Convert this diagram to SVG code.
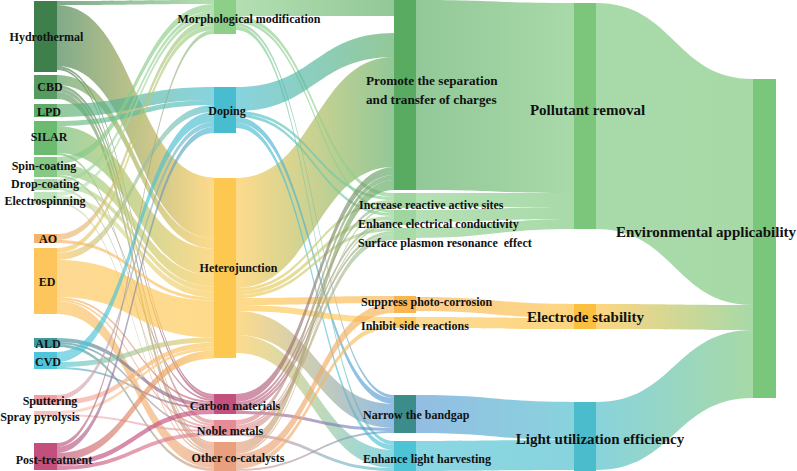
<svg xmlns="http://www.w3.org/2000/svg" width="797" height="471" viewBox="0 0 797 471">
<style>
.l{fill-opacity:0.66;stroke:none}
.t{font-family:"Liberation Serif","Times New Roman",serif;font-weight:bold;fill:#111;font-size:12px}
.m{text-anchor:middle}
.b{font-size:15px}
.p{font-size:13.2px}
</style>
<defs>
<linearGradient id="hymo"><stop stop-color="#3f7f4c"/><stop offset="1" stop-color="#8ccf89"/></linearGradient>
<linearGradient id="hyhe"><stop stop-color="#3f7f4c"/><stop offset="1" stop-color="#fdc84f"/></linearGradient>
<linearGradient id="hyca"><stop stop-color="#3f7f4c"/><stop offset="1" stop-color="#c3517f"/></linearGradient>
<linearGradient id="hyot"><stop stop-color="#3f7f4c"/><stop offset="1" stop-color="#e8a07e"/></linearGradient>
<linearGradient id="cbhe"><stop stop-color="#569c5f"/><stop offset="1" stop-color="#fdc84f"/></linearGradient>
<linearGradient id="cbca"><stop stop-color="#569c5f"/><stop offset="1" stop-color="#c3517f"/></linearGradient>
<linearGradient id="cbno"><stop stop-color="#569c5f"/><stop offset="1" stop-color="#e78c96"/></linearGradient>
<linearGradient id="cbot"><stop stop-color="#569c5f"/><stop offset="1" stop-color="#e8a07e"/></linearGradient>
<linearGradient id="lpdo"><stop stop-color="#5fac69"/><stop offset="1" stop-color="#49bdd0"/></linearGradient>
<linearGradient id="sido"><stop stop-color="#6bbb70"/><stop offset="1" stop-color="#49bdd0"/></linearGradient>
<linearGradient id="sihe"><stop stop-color="#6bbb70"/><stop offset="1" stop-color="#fdc84f"/></linearGradient>
<linearGradient id="siot"><stop stop-color="#6bbb70"/><stop offset="1" stop-color="#e8a07e"/></linearGradient>
<linearGradient id="spmo"><stop stop-color="#86c985"/><stop offset="1" stop-color="#8ccf89"/></linearGradient>
<linearGradient id="sphe"><stop stop-color="#86c985"/><stop offset="1" stop-color="#fdc84f"/></linearGradient>
<linearGradient id="spca"><stop stop-color="#86c985"/><stop offset="1" stop-color="#c3517f"/></linearGradient>
<linearGradient id="drmo"><stop stop-color="#a3d7a1"/><stop offset="1" stop-color="#8ccf89"/></linearGradient>
<linearGradient id="drhe"><stop stop-color="#a3d7a1"/><stop offset="1" stop-color="#fdc84f"/></linearGradient>
<linearGradient id="drno"><stop stop-color="#a3d7a1"/><stop offset="1" stop-color="#e78c96"/></linearGradient>
<linearGradient id="elmo"><stop stop-color="#bfe3bd"/><stop offset="1" stop-color="#8ccf89"/></linearGradient>
<linearGradient id="elhe"><stop stop-color="#bfe3bd"/><stop offset="1" stop-color="#fdc84f"/></linearGradient>
<linearGradient id="elot"><stop stop-color="#bfe3bd"/><stop offset="1" stop-color="#e8a07e"/></linearGradient>
<linearGradient id="aomo"><stop stop-color="#f6b26b"/><stop offset="1" stop-color="#8ccf89"/></linearGradient>
<linearGradient id="aohe"><stop stop-color="#f6b26b"/><stop offset="1" stop-color="#fdc84f"/></linearGradient>
<linearGradient id="edmo"><stop stop-color="#fdc55b"/><stop offset="1" stop-color="#8ccf89"/></linearGradient>
<linearGradient id="eddo"><stop stop-color="#fdc55b"/><stop offset="1" stop-color="#49bdd0"/></linearGradient>
<linearGradient id="edhe"><stop stop-color="#fdc55b"/><stop offset="1" stop-color="#fdc84f"/></linearGradient>
<linearGradient id="edca"><stop stop-color="#fdc55b"/><stop offset="1" stop-color="#c3517f"/></linearGradient>
<linearGradient id="edno"><stop stop-color="#fdc55b"/><stop offset="1" stop-color="#e78c96"/></linearGradient>
<linearGradient id="edot"><stop stop-color="#fdc55b"/><stop offset="1" stop-color="#e8a07e"/></linearGradient>
<linearGradient id="alca"><stop stop-color="#3d9aa0"/><stop offset="1" stop-color="#c3517f"/></linearGradient>
<linearGradient id="alno"><stop stop-color="#3d9aa0"/><stop offset="1" stop-color="#e78c96"/></linearGradient>
<linearGradient id="alot"><stop stop-color="#3d9aa0"/><stop offset="1" stop-color="#e8a07e"/></linearGradient>
<linearGradient id="cvdo"><stop stop-color="#4ec5d9"/><stop offset="1" stop-color="#49bdd0"/></linearGradient>
<linearGradient id="cvhe"><stop stop-color="#4ec5d9"/><stop offset="1" stop-color="#fdc84f"/></linearGradient>
<linearGradient id="cvca"><stop stop-color="#4ec5d9"/><stop offset="1" stop-color="#c3517f"/></linearGradient>
<linearGradient id="sudo"><stop stop-color="#f09fa5"/><stop offset="1" stop-color="#49bdd0"/></linearGradient>
<linearGradient id="suhe"><stop stop-color="#f09fa5"/><stop offset="1" stop-color="#fdc84f"/></linearGradient>
<linearGradient id="srhe"><stop stop-color="#f6c0c0"/><stop offset="1" stop-color="#fdc84f"/></linearGradient>
<linearGradient id="srno"><stop stop-color="#f6c0c0"/><stop offset="1" stop-color="#e78c96"/></linearGradient>
<linearGradient id="pomo"><stop stop-color="#c24f7c"/><stop offset="1" stop-color="#8ccf89"/></linearGradient>
<linearGradient id="podo"><stop stop-color="#c24f7c"/><stop offset="1" stop-color="#49bdd0"/></linearGradient>
<linearGradient id="pohe"><stop stop-color="#c24f7c"/><stop offset="1" stop-color="#fdc84f"/></linearGradient>
<linearGradient id="poca"><stop stop-color="#c24f7c"/><stop offset="1" stop-color="#c3517f"/></linearGradient>
<linearGradient id="pono"><stop stop-color="#c24f7c"/><stop offset="1" stop-color="#e78c96"/></linearGradient>
<linearGradient id="mopr"><stop stop-color="#8ccf89"/><stop offset="1" stop-color="#5aab62"/></linearGradient>
<linearGradient id="moin"><stop stop-color="#8ccf89"/><stop offset="1" stop-color="#8fd08f"/></linearGradient>
<linearGradient id="mona"><stop stop-color="#8ccf89"/><stop offset="1" stop-color="#5b9bd5"/></linearGradient>
<linearGradient id="moen"><stop stop-color="#8ccf89"/><stop offset="1" stop-color="#4dc3d6"/></linearGradient>
<linearGradient id="dopr"><stop stop-color="#49bdd0"/><stop offset="1" stop-color="#5aab62"/></linearGradient>
<linearGradient id="doin"><stop stop-color="#49bdd0"/><stop offset="1" stop-color="#8fd08f"/></linearGradient>
<linearGradient id="dona"><stop stop-color="#49bdd0"/><stop offset="1" stop-color="#5b9bd5"/></linearGradient>
<linearGradient id="doen"><stop stop-color="#49bdd0"/><stop offset="1" stop-color="#4dc3d6"/></linearGradient>
<linearGradient id="hepr"><stop stop-color="#fdc84f"/><stop offset="1" stop-color="#5aab62"/></linearGradient>
<linearGradient id="hein"><stop stop-color="#fdc84f"/><stop offset="1" stop-color="#8fd08f"/></linearGradient>
<linearGradient id="hesu"><stop stop-color="#fdc84f"/><stop offset="1" stop-color="#f9b553"/></linearGradient>
<linearGradient id="heih"><stop stop-color="#fdc84f"/><stop offset="1" stop-color="#fdc858"/></linearGradient>
<linearGradient id="hena"><stop stop-color="#fdc84f"/><stop offset="1" stop-color="#5b9bd5"/></linearGradient>
<linearGradient id="heen"><stop stop-color="#fdc84f"/><stop offset="1" stop-color="#4dc3d6"/></linearGradient>
<linearGradient id="capr"><stop stop-color="#c3517f"/><stop offset="1" stop-color="#5aab62"/></linearGradient>
<linearGradient id="cain"><stop stop-color="#c3517f"/><stop offset="1" stop-color="#8fd08f"/></linearGradient>
<linearGradient id="cana"><stop stop-color="#c3517f"/><stop offset="1" stop-color="#5b9bd5"/></linearGradient>
<linearGradient id="nopr"><stop stop-color="#e78c96"/><stop offset="1" stop-color="#5aab62"/></linearGradient>
<linearGradient id="noin"><stop stop-color="#e78c96"/><stop offset="1" stop-color="#8fd08f"/></linearGradient>
<linearGradient id="noen"><stop stop-color="#e78c96"/><stop offset="1" stop-color="#4dc3d6"/></linearGradient>
<linearGradient id="otpr"><stop stop-color="#e8a07e"/><stop offset="1" stop-color="#5aab62"/></linearGradient>
<linearGradient id="otin"><stop stop-color="#e8a07e"/><stop offset="1" stop-color="#8fd08f"/></linearGradient>
<linearGradient id="otsu"><stop stop-color="#e8a07e"/><stop offset="1" stop-color="#f9b553"/></linearGradient>
<linearGradient id="otih"><stop stop-color="#e8a07e"/><stop offset="1" stop-color="#fdc858"/></linearGradient>
<linearGradient id="otna"><stop stop-color="#e8a07e"/><stop offset="1" stop-color="#5b9bd5"/></linearGradient>
<linearGradient id="prpl"><stop stop-color="#5aab62"/><stop offset="1" stop-color="#7cc67c"/></linearGradient>
<linearGradient id="inpl"><stop stop-color="#8fd08f"/><stop offset="1" stop-color="#7cc67c"/></linearGradient>
<linearGradient id="suel"><stop stop-color="#f9b553"/><stop offset="1" stop-color="#fcc040"/></linearGradient>
<linearGradient id="ihel"><stop stop-color="#fdc858"/><stop offset="1" stop-color="#fcc040"/></linearGradient>
<linearGradient id="nali"><stop stop-color="#5b9bd5"/><stop offset="1" stop-color="#4bbccb"/></linearGradient>
<linearGradient id="enli"><stop stop-color="#4dc3d6"/><stop offset="1" stop-color="#4bbccb"/></linearGradient>
<linearGradient id="plen"><stop stop-color="#7cc67c"/><stop offset="1" stop-color="#7ac67a"/></linearGradient>
<linearGradient id="elen"><stop stop-color="#fcc040"/><stop offset="1" stop-color="#7ac67a"/></linearGradient>
<linearGradient id="lien"><stop stop-color="#4bbccb"/><stop offset="1" stop-color="#7ac67a"/></linearGradient>
</defs>
<g id="links">
<path class="l" fill="url(#hyhe)" d="M57 5C135.5 5 135.5 177.5 214 177.5V238.5C135.5 238.5 135.5 66 57 66Z"/>
<path class="l" fill="url(#hymo)" d="M57 1C135.5 1 135.5 0 214 0V4C135.5 4 135.5 5 57 5Z"/>
<path class="l" fill="url(#hyca)" d="M57 66C135.5 66 135.5 394 214 394V396C135.5 396 135.5 68 57 68Z"/>
<path class="l" fill="url(#hyot)" d="M57 68C135.5 68 135.5 442 214 442V444C135.5 444 135.5 70 57 70Z"/>
<path class="l" fill="url(#cbhe)" d="M57 75C135.5 75 135.5 238.5 214 238.5V248.5C135.5 248.5 135.5 85 57 85Z"/>
<path class="l" fill="url(#cbca)" d="M57 85C135.5 85 135.5 396 214 396V399C135.5 399 135.5 88 57 88Z"/>
<path class="l" fill="url(#cbno)" d="M57 88C135.5 88 135.5 420 214 420V424C135.5 424 135.5 92 57 92Z"/>
<path class="l" fill="url(#cbot)" d="M57 92C135.5 92 135.5 444 214 444V451C135.5 451 135.5 99 57 99Z"/>
<path class="l" fill="url(#lpdo)" d="M57 104C135.5 104 135.5 87 214 87V100C135.5 100 135.5 117 57 117Z"/>
<path class="l" fill="url(#sido)" d="M57 121C135.5 121 135.5 100 214 100V105C135.5 105 135.5 126 57 126Z"/>
<path class="l" fill="url(#sihe)" d="M57 126C135.5 126 135.5 248.5 214 248.5V275.5C135.5 275.5 135.5 153 57 153Z"/>
<path class="l" fill="url(#siot)" d="M57 153C135.5 153 135.5 451 214 451V453C135.5 453 135.5 155 57 155Z"/>
<path class="l" fill="url(#spmo)" d="M57 157C135.5 157 135.5 4 214 4V11C135.5 11 135.5 164 57 164Z"/>
<path class="l" fill="url(#sphe)" d="M57 164C135.5 164 135.5 275.5 214 275.5V286.5C135.5 286.5 135.5 175 57 175Z"/>
<path class="l" fill="url(#spca)" d="M57 175C135.5 175 135.5 399 214 399V401C135.5 401 135.5 177 57 177Z"/>
<path class="l" fill="url(#drmo)" d="M57 179C135.5 179 135.5 11 214 11V15C135.5 15 135.5 183 57 183Z"/>
<path class="l" fill="url(#drhe)" d="M57 183C135.5 183 135.5 286.5 214 286.5V291.5C135.5 291.5 135.5 188 57 188Z"/>
<path class="l" fill="url(#drno)" d="M57 188C135.5 188 135.5 424 214 424V426C135.5 426 135.5 190 57 190Z"/>
<path class="l" fill="url(#elmo)" d="M57 192C135.5 192 135.5 15 214 15V19C135.5 19 135.5 196 57 196Z"/>
<path class="l" fill="url(#elhe)" d="M57 196C135.5 196 135.5 291.5 214 291.5V297.5C135.5 297.5 135.5 202 57 202Z"/>
<path class="l" fill="url(#elot)" d="M57 202C135.5 202 135.5 453 214 453V455C135.5 455 135.5 204 57 204Z"/>
<path class="l" fill="url(#aomo)" d="M57 234C135.5 234 135.5 19 214 19V25C135.5 25 135.5 240 57 240Z"/>
<path class="l" fill="url(#aohe)" d="M57 240C135.5 240 135.5 297.5 214 297.5V300.5C135.5 300.5 135.5 243 57 243Z"/>
<path class="l" fill="url(#edmo)" d="M57 248C135.5 248 135.5 25 214 25V30C135.5 30 135.5 253 57 253Z"/>
<path class="l" fill="url(#eddo)" d="M57 253C135.5 253 135.5 105 214 105V112C135.5 112 135.5 260 57 260Z"/>
<path class="l" fill="url(#edhe)" d="M57 260C135.5 260 135.5 300.5 214 300.5V337.5C135.5 337.5 135.5 297 57 297Z"/>
<path class="l" fill="url(#edca)" d="M57 297C135.5 297 135.5 401 214 401V403C135.5 403 135.5 299 57 299Z"/>
<path class="l" fill="url(#edno)" d="M57 299C135.5 299 135.5 426 214 426V428C135.5 428 135.5 301 57 301Z"/>
<path class="l" fill="url(#edot)" d="M57 301C135.5 301 135.5 455 214 455V468C135.5 468 135.5 314 57 314Z"/>
<path class="l" fill="url(#alca)" d="M57 338C135.5 338 135.5 403 214 403V407C135.5 407 135.5 342 57 342Z"/>
<path class="l" fill="url(#alno)" d="M57 342C135.5 342 135.5 428 214 428V430C135.5 430 135.5 344 57 344Z"/>
<path class="l" fill="url(#alot)" d="M57 344C135.5 344 135.5 468 214 468V471C135.5 471 135.5 347 57 347Z"/>
<path class="l" fill="url(#cvdo)" d="M57 352C135.5 352 135.5 112 214 112V122C135.5 122 135.5 362 57 362Z"/>
<path class="l" fill="url(#cvhe)" d="M57 362C135.5 362 135.5 337.5 214 337.5V342.5C135.5 342.5 135.5 367 57 367Z"/>
<path class="l" fill="url(#cvca)" d="M57 367C135.5 367 135.5 407 214 407V409C135.5 409 135.5 369 57 369Z"/>
<path class="l" fill="url(#sudo)" d="M57 395C135.5 395 135.5 122 214 122V127C135.5 127 135.5 400 57 400Z"/>
<path class="l" fill="url(#suhe)" d="M57 400C135.5 400 135.5 342.5 214 342.5V347.5C135.5 347.5 135.5 405 57 405Z"/>
<path class="l" fill="url(#srhe)" d="M57 411C135.5 411 135.5 347.5 214 347.5V350.5C135.5 350.5 135.5 414 57 414Z"/>
<path class="l" fill="url(#srno)" d="M57 414C135.5 414 135.5 430 214 430V432C135.5 432 135.5 416 57 416Z"/>
<path class="l" fill="url(#pomo)" d="M57 443C135.5 443 135.5 30 214 30V34C135.5 34 135.5 447 57 447Z"/>
<path class="l" fill="url(#podo)" d="M57 447C135.5 447 135.5 127 214 127V133C135.5 133 135.5 453 57 453Z"/>
<path class="l" fill="url(#pohe)" d="M57 453C135.5 453 135.5 350.5 214 350.5V358.5C135.5 358.5 135.5 461 57 461Z"/>
<path class="l" fill="url(#poca)" d="M57 461C135.5 461 135.5 409 214 409V414C135.5 414 135.5 466 57 466Z"/>
<path class="l" fill="url(#pono)" d="M57 466C135.5 466 135.5 432 214 432V436C135.5 436 135.5 470 57 470Z"/>

<path class="l" fill="url(#hepr)" d="M236 178C315 178 315 57 394 57V167C315 167 315 288 236 288Z"/>
<path class="l" fill="url(#mopr)" d="M236 0C315 0 315 0 394 0V16C315 16 315 16 236 16Z"/>
<path class="l" fill="url(#moin)" d="M236 16C315 16 315 193 394 193V197C315 197 315 20 236 20Z"/>
<path class="l" fill="url(#moin)" d="M236 20C315 20 315 210 394 210V213C315 213 315 23 236 23Z"/>
<path class="l" fill="url(#mona)" d="M236 23C315 23 315 395 394 395V398C315 398 315 26 236 26Z"/>
<path class="l" fill="url(#moen)" d="M236 26C315 26 315 441 394 441V445C315 445 315 30 236 30Z"/>
<path class="l" fill="url(#dopr)" d="M236 87C315 87 315 33 394 33V57C315 57 315 111 236 111Z"/>
<path class="l" fill="url(#doin)" d="M236 111C315 111 315 197 394 197V200C315 200 315 114 236 114Z"/>
<path class="l" fill="url(#doin)" d="M236 114C315 114 315 213 394 213V216C315 216 315 117 236 117Z"/>
<path class="l" fill="url(#dona)" d="M236 117C315 117 315 398 394 398V404C315 404 315 123 236 123Z"/>
<path class="l" fill="url(#doen)" d="M236 123C315 123 315 445 394 445V450C315 450 315 128 236 128Z"/>
<path class="l" fill="url(#hein)" d="M236 288C315 288 315 200 394 200V203C315 203 315 291 236 291Z"/>
<path class="l" fill="url(#hein)" d="M236 291C315 291 315 216 394 216V220C315 220 315 295 236 295Z"/>
<path class="l" fill="url(#hein)" d="M236 295C315 295 315 228 394 228V231C315 231 315 298 236 298Z"/>
<path class="l" fill="url(#hesu)" d="M236 298C315 298 315 296 394 296V303C315 303 315 305 236 305Z"/>
<path class="l" fill="url(#heih)" d="M236 305C315 305 315 317 394 317V323C315 323 315 311 236 311Z"/>
<path class="l" fill="url(#hena)" d="M236 311C315 311 315 404 394 404V428C315 428 315 335 236 335Z"/>
<path class="l" fill="url(#heen)" d="M236 335C315 335 315 450 394 450V468C315 468 315 353 236 353Z"/>
<path class="l" fill="url(#capr)" d="M236 394C315 394 315 167 394 167V175C315 175 315 402 236 402Z"/>
<path class="l" fill="url(#cain)" d="M236 402C315 402 315 203 394 203V206C315 206 315 405 236 405Z"/>
<path class="l" fill="url(#cain)" d="M236 405C315 405 315 220 394 220V223C315 223 315 408 236 408Z"/>
<path class="l" fill="url(#cain)" d="M236 408C315 408 315 231 394 231V234C315 234 315 411 236 411Z"/>
<path class="l" fill="url(#cana)" d="M236 411C315 411 315 428 394 428V431C315 431 315 414 236 414Z"/>
<path class="l" fill="url(#nopr)" d="M236 420C315 420 315 175 394 175V180C315 180 315 425 236 425Z"/>
<path class="l" fill="url(#noin)" d="M236 425C315 425 315 223 394 223V225C315 225 315 427 236 427Z"/>
<path class="l" fill="url(#noin)" d="M236 427C315 427 315 234 394 234V240C315 240 315 433 236 433Z"/>
<path class="l" fill="url(#noen)" d="M236 433C315 433 315 468 394 468V471C315 471 315 436 236 436Z"/>
<path class="l" fill="url(#otpr)" d="M236 442C315 442 315 180 394 180V190C315 190 315 452 236 452Z"/>
<path class="l" fill="url(#otin)" d="M236 452C315 452 315 206 394 206V208C315 208 315 454 236 454Z"/>
<path class="l" fill="url(#otsu)" d="M236 454C315 454 315 303 394 303V313C315 313 315 464 236 464Z"/>
<path class="l" fill="url(#otih)" d="M236 464C315 464 315 323 394 323V328C315 328 315 469 236 469Z"/>
<path class="l" fill="url(#otna)" d="M236 469C315 469 315 431 394 431V433C315 433 315 471 236 471Z"/>

<path class="l" fill="url(#prpl)" d="M416 0C495 0 495 3 574 3V193C495 193 495 190 416 190Z"/>
<path class="l" fill="url(#inpl)" d="M416 193C495 193 495 193 574 193V207C495 207 495 207 416 207Z"/>
<path class="l" fill="url(#inpl)" d="M416 210C495 210 495 207 574 207V219C495 219 495 222 416 222Z"/>
<path class="l" fill="url(#inpl)" d="M416 228C495 228 495 219 574 219V229C495 229 495 238 416 238Z"/>
<path class="l" fill="url(#suel)" d="M416 297C495 297 495 304 574 304V318C495 318 495 311 416 311Z"/>
<path class="l" fill="url(#ihel)" d="M416 317C495 317 495 318 574 318V329C495 329 495 328 416 328Z"/>
<path class="l" fill="url(#nali)" d="M416 395C495 395 495 402 574 402V440C495 440 495 433 416 433Z"/>
<path class="l" fill="url(#enli)" d="M416 441C495 441 495 440 574 440V470C495 470 495 471 416 471Z"/>

<path class="l" fill="url(#plen)" d="M596 3C674.5 3 674.5 79 753 79V305C674.5 305 674.5 229 596 229Z"/>
<path class="l" fill="url(#elen)" d="M596 304C674.5 304 674.5 305 753 305V330C674.5 330 674.5 329 596 329Z"/>
<path class="l" fill="url(#lien)" d="M596 402C674.5 402 674.5 330 753 330V398C674.5 398 674.5 470 596 470Z"/>
</g>

<g id="n-hydrothermal"><rect x="34" y="1" width="23" height="71" fill="#3f7f4c"/><text class="t m" x="46.5" y="41">Hydrothermal</text></g>
<g id="n-cbd"><rect x="34" y="75" width="23" height="24" fill="#569c5f"/><text class="t m" x="50" y="91">CBD</text></g>
<g id="n-lpd"><rect x="34" y="104" width="23" height="13" fill="#5fac69"/><text class="t m" x="49" y="116">LPD</text></g>
<g id="n-silar"><rect x="34" y="121" width="23" height="34" fill="#6bbb70"/><text class="t m" x="49" y="141">SILAR</text></g>
<g id="n-spin"><rect x="34" y="157" width="23" height="20" fill="#86c985"/><text class="t m" x="44" y="170">Spin-coating</text></g>
<g id="n-drop"><rect x="34" y="179" width="23" height="11" fill="#a3d7a1"/><text class="t m" x="45" y="188">Drop-coating</text></g>
<g id="n-electro"><rect x="34" y="192" width="23" height="12" fill="#bfe3bd"/><text class="t m" x="45" y="205">Electrospinning</text></g>
<g id="n-ao"><rect x="34" y="234" width="23" height="9" fill="#f6b26b"/><text class="t m" x="48" y="243">AO</text></g>
<g id="n-ed"><rect x="34" y="248" width="23" height="66" fill="#fdc55b"/><text class="t m" x="47" y="286">ED</text></g>
<g id="n-ald"><rect x="34" y="338" width="23" height="9" fill="#3d9aa0"/><text class="t m" x="48" y="348">ALD</text></g>
<g id="n-cvd"><rect x="34" y="352" width="23" height="17" fill="#4ec5d9"/><text class="t m" x="48" y="366">CVD</text></g>
<g id="n-sputtering"><rect x="34" y="395" width="23" height="10" fill="#f09fa5"/><text class="t m" x="50" y="405">Sputtering</text></g>
<g id="n-spray"><rect x="34" y="411" width="23" height="5" fill="#f6c0c0"/><text class="t m" x="40" y="421">Spray pyrolysis</text></g>
<g id="n-post"><rect x="34" y="443" width="23" height="27" fill="#c24f7c"/><text class="t m" x="54" y="464">Post-treatment</text></g>

<g id="n-morph"><rect x="214" y="0" width="22" height="34" fill="#8ccf89"/><text class="t m" x="249" y="23">Morphological modification</text></g>
<g id="n-doping"><rect x="214" y="87" width="22" height="46" fill="#49bdd0"/><text class="t m" x="227" y="115">Doping</text></g>
<g id="n-hetero"><rect x="214" y="178" width="22" height="180" fill="#fdc84f"/><text class="t m" x="238.5" y="272">Heterojunction</text></g>
<g id="n-carbon"><rect x="214" y="394" width="22" height="20" fill="#c3517f"/><text class="t m" x="235" y="410">Carbon materials</text></g>
<g id="n-noble"><rect x="214" y="420" width="22" height="16" fill="#e78c96"/><text class="t m" x="230" y="435">Noble metals</text></g>
<g id="n-other"><rect x="214" y="442" width="22" height="29" fill="#e8a07e"/><text class="t m" x="238" y="462">Other co-catalysts</text></g>

<g id="n-promote"><rect x="394" y="0" width="22" height="190" fill="#5aab62"/><text class="t p" x="366" y="84.5">Promote the separation</text><text class="t p" x="366" y="103.5">and transfer of charges</text></g>
<g id="n-increase"><rect x="394" y="193" width="22" height="15" fill="#9fd69f"/><text class="t" x="359" y="209">Increase reactive active sites</text></g>
<g id="n-conductivity"><rect x="394" y="210" width="22" height="15" fill="#9fd69f"/><text class="t" x="358" y="228">Enhance electrical conductivity</text></g>
<g id="n-spr"><rect x="394" y="228" width="22" height="12" fill="#a9dca9"/><text class="t" x="358" y="247" xml:space="preserve">Surface plasmon resonance  effect</text></g>
<g id="n-suppress"><rect x="394" y="296" width="22" height="17" fill="#f9b553"/><text class="t" x="361" y="306">Suppress photo-corrosion</text></g>
<g id="n-inhibit"><rect x="394" y="317" width="22" height="11" fill="#fdc858"/><text class="t" x="361" y="330">Inhibit side reactions</text></g>
<g id="n-narrow"><rect x="394" y="395" width="22" height="38" fill="#3c8c8c"/><text class="t" x="363" y="419">Narrow the bandgap</text></g>
<g id="n-harvest"><rect x="394" y="441" width="22" height="30" fill="#4dc3d6"/><text class="t" x="363" y="463">Enhance light harvesting</text></g>

<g id="n-pollutant"><rect x="574" y="3" width="22" height="226" fill="#7cc67c"/><text class="t m b" x="587.5" y="115">Pollutant removal</text></g>
<g id="n-electrode"><rect x="574" y="304" width="22" height="25" fill="#fcc040"/><text class="t m b" x="585.5" y="322">Electrode stability</text></g>
<g id="n-light"><rect x="574" y="402" width="22" height="69" fill="#4bbccb"/><text class="t m b" x="600" y="444">Light utilization efficiency</text></g>

<g id="n-env"><rect x="753" y="79" width="23" height="319" fill="#7ac67a"/><text class="t m b" x="706" y="237">Environmental applicability</text></g>
</svg>
